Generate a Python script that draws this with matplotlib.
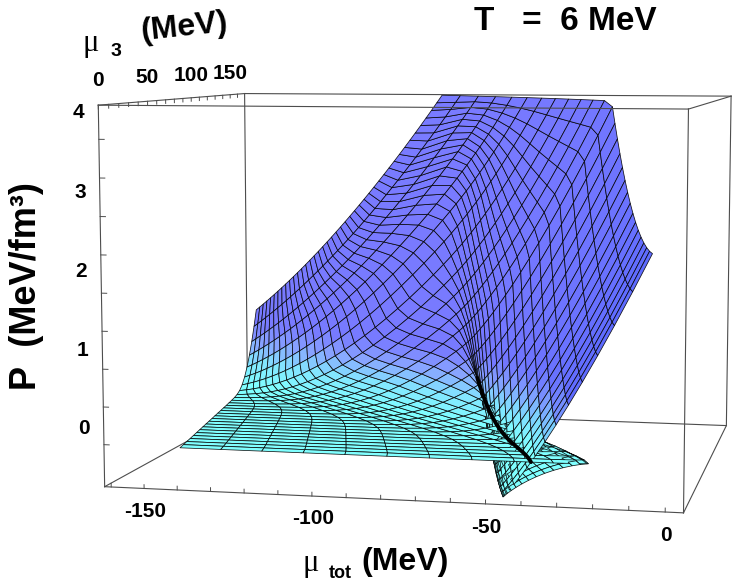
import numpy as np
import matplotlib
matplotlib.use("Agg")
import matplotlib.pyplot as plt
from matplotlib.colors import LinearSegmentedColormap
from mpl_toolkits.mplot3d import proj3d

plt.rcParams['font.family'] = ['Liberation Sans', 'DejaVu Sans']

# ---------------- axes ranges / ticks ----------------
mu_tot_lim = [-162.0, 5.0]
mu3_lim = [0.0, 170.0]
p_lim = [-0.56, 4.44]
mu_tot_ticks = [-150, -100, -50, 0]
mu3_ticks = [0, 50, 100, 150]
p_ticks = [0, 1, 2, 3, 4]
title_text = "T   =  6 MeV"

# ---------------- equation-of-state parameters (fitted to the picture) ----------------
T = 6.0            # MeV
n0 = 0.0311        # density unit
a_coef = -58.7     # attractive mean field
b_coef = 18.8      # repulsive mean field
s_iso = 34.0       # isovector strength
shear = 0.23       # mu_tot shift per unit mu_3
c_off = -1.7       # chemical potential offset
x_max = 2.96       # largest density shown
mu3_surface = [0.0, 160.0]
mu_left_edge = [-139.0, -156.0]   # low-density edge of the sheet (front, back)
n_rows = 28
n_cols = 42
k_param = 120.0

# ---------------- view ----------------
elev, azim, focal = 6.2, -77.8, 0.53
box_aspect = (1.52, 1.27, 1.0)
W, H = 740, 581
ax_side = 766.0
ax_cx, ax_cy = 428.0, 289.0


def lncosh(u):
    return u + np.log1p(np.exp(-2.0 * u)) - np.log(2.0)


def solve_u(x, mu3):
    lo = np.zeros_like(x)
    hi = np.full_like(x, mu3 / T + 1e-9)
    for _ in range(80):
        mid = 0.5 * (lo + hi)
        f = T * mid + 2.0 * s_iso * x * np.tanh(mid) - mu3
        hi = np.where(f > 0, mid, hi)
        lo = np.where(f > 0, lo, mid)
    return 0.5 * (lo + hi)


def eos(x, mu3):
    u = solve_u(x, mu3)
    mt = (T * np.log(x) - T * lncosh(u) + a_coef * x + b_coef * x ** 2 + c_off
          - shear * mu3)
    p = n0 * (T * x + 0.5 * a_coef * x ** 2 + (2.0 / 3.0) * b_coef * x ** 3
              + s_iso * x ** 2 * np.tanh(u) ** 2)
    return mt, p


x_fine = np.geomspace(1e-14, x_max, 6000)
nu_fine = T * np.log(x_fine) + k_param * x_fine


def row_range(m3):
    f = (m3 - mu3_surface[0]) / (mu3_surface[1] - mu3_surface[0])
    left = mu_left_edge[0] + f * (mu_left_edge[1] - mu_left_edge[0])
    left = max(left, mu_tot_lim[0])
    mt, p = eos(x_fine, m3)
    i = int(np.argmax(mt >= left))
    if i > 0:
        t = (left - mt[i - 1]) / (mt[i] - mt[i - 1])
        x_lo = x_fine[i - 1] + t * (x_fine[i] - x_fine[i - 1])
    else:
        x_lo = x_fine[0]
    over = np.nonzero(p >= p_lim[1])[0]
    if len(over):
        j = over[0]
        t = (p_lim[1] - p[j - 1]) / (p[j] - p[j - 1])
        x_hi = x_fine[j - 1] + t * (x_fine[j] - x_fine[j - 1])
    else:
        x_hi = x_max
    return x_lo, x_hi, mt, p


rows_mu3 = np.linspace(mu3_surface[0], mu3_surface[1], n_rows)
MU = np.zeros((n_rows, n_cols))
PP = np.zeros((n_rows, n_cols))
M3 = np.zeros((n_rows, n_cols))
for r, m3 in enumerate(rows_mu3):
    x_lo, x_hi, _, _ = row_range(m3)
    nu = np.linspace(T * np.log(x_lo) + k_param * x_lo,
                     T * np.log(x_hi) + k_param * x_hi, n_cols)
    xs = np.interp(nu, nu_fine, x_fine)
    xs[0], xs[-1] = x_lo, x_hi
    mt, p = eos(xs, m3)
    MU[r] = mt
    PP[r] = np.minimum(p, p_lim[1])
    M3[r] = m3

# ---------------- coexistence line (gas / liquid branch crossing) ----------------
coex_mu, coex_m3, coex_p = [], [], []
for m3 in np.linspace(mu3_surface[0], mu3_surface[1], 200):
    x_lo, x_hi, mt, p = row_range(m3)
    sel = (x_fine >= x_lo) & (x_fine <= x_hi)
    mts, ps = mt[sel], p[sel]
    d = np.diff(mts)
    sg = np.nonzero(np.diff(np.sign(d)) != 0)[0]
    if len(sg) < 2:
        continue
    imax, imin = sg[0] + 1, sg[1] + 1
    g_mu, g_p = mts[:imax + 1], ps[:imax + 1]
    l_mu, l_p = mts[imin:], ps[imin:]
    lo_m = max(g_mu.min(), l_mu.min())
    hi_m = min(g_mu.max(), l_mu.max())
    if hi_m <= lo_m:
        continue
    mm = np.linspace(lo_m, hi_m, 400)
    diff = np.interp(mm, g_mu, g_p) - np.interp(mm, l_mu, l_p)
    k = np.nonzero(np.diff(np.sign(diff)) != 0)[0]
    if len(k) == 0:
        continue
    k = k[0]
    t = diff[k] / (diff[k] - diff[k + 1])
    mc = mm[k] + t * (mm[k + 1] - mm[k])
    coex_mu.append(mc)
    coex_m3.append(m3)
    coex_p.append(np.interp(mc, g_mu, g_p))

# ---------------- colours ----------------
cmap = LinearSegmentedColormap.from_list(
    "pc", ["#80ffff", "#86eeff", "#8eaaff", "#7d7dff"])
Pf = 0.25 * (PP[:-1, :-1] + PP[1:, :-1] + PP[:-1, 1:] + PP[1:, 1:])
pn = np.clip((Pf - 0.1) / 0.8, 0, 1)
base = cmap(pn)[..., :3]

sx = box_aspect[0] / (mu_tot_lim[1] - mu_tot_lim[0])
sy = box_aspect[1] / (mu3_lim[1] - mu3_lim[0])
sz = box_aspect[2] / (p_lim[1] - p_lim[0])
V = np.stack([MU * sx, M3 * sy, PP * sz], axis=-1)
d1 = V[:-1, 1:] - V[:-1, :-1]
d2 = V[1:, :-1] - V[:-1, :-1]
nrm = np.cross(d1, d2)
nrm /= np.linalg.norm(nrm, axis=-1, keepdims=True) + 1e-12
er, ar = np.deg2rad(elev), np.deg2rad(azim)
view = np.array([np.cos(er) * np.cos(ar), np.cos(er) * np.sin(ar), np.sin(er)])
facing = np.abs(nrm @ view)
sat = np.array([0.27, 0.36, 1.0])
w = (np.clip(1 - facing, 0, 1) ** 2.0)[..., None] * pn[..., None] * 0.7
col = base + (sat - base) * w
FC = np.ones((n_rows, n_cols, 4))
FC[:-1, :-1, :3] = col

# ---------------- figure ----------------
fig = plt.figure(figsize=(W / 100, H / 100), dpi=100)
rect = [(ax_cx - ax_side / 2) / W, 1 - (ax_cy + ax_side / 2) / H, ax_side / W, ax_side / H]
ax = fig.add_axes(rect, projection='3d')
ax.set_box_aspect(box_aspect)
ax.set_proj_type('persp', focal_length=focal)
ax.view_init(elev=elev, azim=azim)
ax.set_xlim(mu_tot_lim)
ax.set_ylim(mu3_lim)
ax.set_zlim(p_lim)
ax.set_axis_off()
ax.computed_zorder = False

ax.plot_surface(MU, M3, PP, facecolors=FC, rstride=1, cstride=1, shade=False,
                edgecolor=(0, 0, 0, 0.9), linewidth=0.55, antialiased=True, zorder=2)

ax.plot(coex_mu, coex_m3, coex_p, color='k', lw=2.8, zorder=5, solid_capstyle='round')

# box
x0, x1 = mu_tot_lim
y0, y1 = mu3_lim
z0, z1 = p_lim
edge_kw = dict(color='0.3', lw=0.8)
back_edges = [((x0, x0), (y1, y1), (z0, z1)), ((x1, x1), (y1, y1), (z0, z1)),
              ((x0, x1), (y1, y1), (z1, z1)), ((x0, x1), (y1, y1), (z0, z0)),
              ((x0, x0), (y0, y1), (z0, z0))]
front_edges = [((x0, x0), (y0, y0), (z0, z1)), ((x1, x1), (y0, y0), (z0, z1)),
               ((x0, x1), (y0, y0), (z1, z1)), ((x0, x1), (y0, y0), (z0, z0)),
               ((x0, x0), (y0, y1), (z1, z1)), ((x1, x1), (y0, y1), (z1, z1)),
               ((x1, x1), (y0, y1), (z0, z0))]
for e in back_edges:
    ax.plot(*e, zorder=1, **edge_kw)
for e in front_edges:
    ax.plot(*e, zorder=6, **edge_kw)

# tick marks
tk = dict(color='0.3', lw=0.7, zorder=6)
for p in np.arange(0, 4.01, 0.5):
    ax.plot([x0, x0 + 1.6], [y0, y0], [p, p], **tk)
for m in range(-160, 1, 10):
    ax.plot([m, m], [y0, y0], [z0, z0 + 0.05], **tk)
for m in range(0, 161, 10):
    ax.plot([x0, x0], [m, m], [z1, z1 - 0.05], **tk)

# tick labels: project 3-D anchor points to figure coordinates
fig.canvas.draw()
M = ax.get_proj()


def label3d(x, y, z, s, **kw):
    px, py, _ = proj3d.proj_transform(x, y, z, M)
    dx, dy = ax.transData.transform((px, py))
    fx, fy = fig.transFigure.inverted().transform((dx, dy))
    fig.text(fx, fy, s, ha='center', va='center', fontsize=15,
             fontweight='bold', **kw)


for p in p_ticks:
    label3d(x0 - 6.0, y0, p + 0.21 + 0.033 * p, str(p))
for m in mu_tot_ticks:
    label3d(m + 0.3, y0, z0 - 0.3, str(m))
for m in mu3_ticks:
    label3d(x0, m, z1 + 0.32, str(m))


def ftext(px, py, s, **kw):
    fig.text(px / W, 1 - py / H, s, ha='center', va='center', **kw)


ftext(565, 22, title_text, fontsize=24, fontweight='bold')
ftext(91, 43, "μ", fontsize=22, family='Liberation Serif')
ftext(116, 52, "3", fontsize=14, fontweight='bold')
ftext(184, 28, "(MeV)", fontsize=23, fontweight='bold', rotation=6)
ftext(27, 286, "P  (MeV/fm³)", fontsize=26, fontweight='bold', rotation=90)
ftext(311, 563, "μ", fontsize=22, family='Liberation Serif')
ftext(340, 573, "tot", fontsize=13, fontweight='bold')
ftext(405, 562, "(MeV)", fontsize=23, fontweight='bold')

fig.savefig("out.png", dpi=100)
